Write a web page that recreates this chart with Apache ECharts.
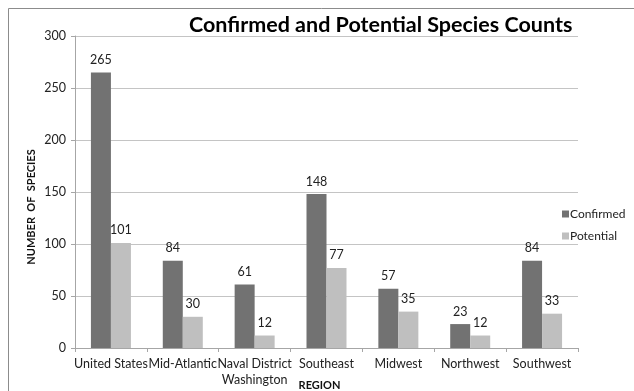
<!DOCTYPE html>
<html>
<head>
<meta charset="utf-8">
<script src="https://cdn.jsdelivr.net/npm/echarts@6/dist/echarts.min.js"></script>
<style>
  html, body { margin: 0; padding: 0; background: #fff; }
  #chart { width: 634px; height: 391px; }
</style>
</head>
<body>
<div id="chart"></div>
<script>
// data
var regions = ['United States', 'Mid-Atlantic', 'Naval District\nWashington', 'Southeast', 'Midwest', 'Northwest', 'Southwest'];
var confirmed = [265, 84, 61, 148, 57, 23, 84];
var potential = [101, 30, 12, 77, 35, 12, 33];
var yTicks = [0, 50, 100, 150, 200, 250, 300];

var font = 'Lato';
var chart = echarts.init(document.getElementById('chart'), null, { renderer: 'canvas' });

var opt = {
  backgroundColor: '#fff',
  animation: false,
  textStyle: { fontFamily: font },
  title: {
    text: 'Confirmed and Potential Species Counts',
    left: 184,
    top: 9,
    textStyle: { fontFamily: font, fontSize: 21.5, fontWeight: 'bold', color: '#000' }
  },
  legend: {
    orient: 'vertical',
    left: 557,
    top: 203,
    itemWidth: 7,
    itemHeight: 7,
    itemGap: 10,
    icon: 'rect',
    textStyle: { fontFamily: font, fontSize: 12, color: '#222', padding: [0, 0, 0, -4] },
    data: ['Confirmed', 'Potential']
  },
  grid: { left: 75, right: 56, top: 36, bottom: 43, containLabel: false, outerBoundsMode: 'none' },
  xAxis: {
    type: 'category',
    data: regions,
    name: 'REGION',
    nameLocation: 'middle',
    nameGap: 32,
    nameMoveOverlap: false,
    nameTextStyle: { fontFamily: font, fontSize: 11, fontWeight: 'bold', color: '#111', padding: [0, 14, 0, 0] },
    axisLine: { lineStyle: { color: '#a6a6a6' } },
    axisTick: { show: true, length: 4, inside: false, lineStyle: { color: '#a6a6a6' } },
    axisLabel: { fontFamily: font, fontSize: 12.5, color: '#222', margin: 8, interval: 0, lineHeight: 16 }
  },
  yAxis: {
    type: 'value',
    min: yTicks[0],
    max: yTicks[yTicks.length - 1],
    interval: yTicks[1] - yTicks[0],
    name: 'NUMBER  OF  SPECIES',
    nameLocation: 'middle',
    nameGap: 38,
    nameRotate: 90,
    nameMoveOverlap: false,
    nameTextStyle: { fontFamily: font, fontSize: 11, fontWeight: 'bold', color: '#111', padding: [0, 30, 0, 0] },
    axisLine: { show: true, lineStyle: { color: '#a6a6a6' } },
    axisTick: { show: true, length: 4, lineStyle: { color: '#a6a6a6' } },
    axisLabel: { fontFamily: font, fontSize: 12.5, color: '#222', margin: 9 },
    splitLine: { lineStyle: { color: '#c4c4c4' } }
  },
  series: [
    {
      name: 'Confirmed',
      type: 'bar',
      data: confirmed,
      barWidth: 20,
      barGap: '0%',
      itemStyle: { color: '#727272' },
      label: { show: true, position: 'top', distance: 6, fontFamily: font, fontSize: 12.5, color: '#222' }
    },
    {
      name: 'Potential',
      type: 'bar',
      data: potential,
      barWidth: 20,
      itemStyle: { color: '#bfbfbf' },
      label: { show: true, position: 'top', distance: 6, fontFamily: font, fontSize: 12.5, color: '#222' }
    }
  ],
  graphic: [
    {
      type: 'rect',
      shape: { x: 8.5, y: 8.5, width: 700, height: 500 },
      style: { fill: 'none', stroke: '#8c8c8c', lineWidth: 1 },
      silent: true,
      z: -1
    }
  ]
};

chart.setOption(opt);
</script>
</body>
</html>
